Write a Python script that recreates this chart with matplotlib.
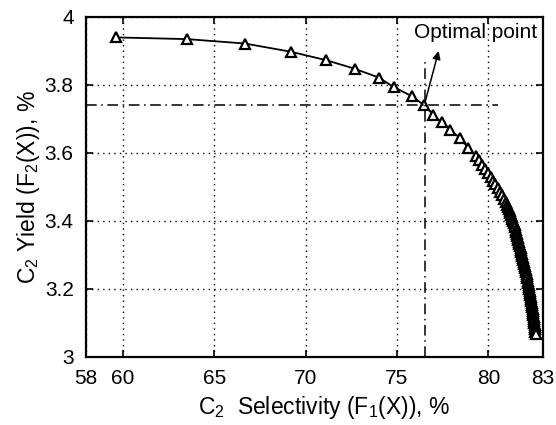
import matplotlib
matplotlib.use("Agg")
import matplotlib.pyplot as plt

plt.rcParams['font.family'] = ['Liberation Sans', 'DejaVu Sans']
plt.rcParams['mathtext.fontset'] = 'custom'
plt.rcParams['mathtext.rm'] = 'Liberation Sans'
plt.rcParams['mathtext.it'] = 'Liberation Sans:italic'

# pareto front: C2 selectivity (x) vs C2 yield (y)
sel = [59.62, 63.50, 66.68, 69.18, 71.13, 72.68, 74.00, 74.82, 75.82, 76.50,
       76.98, 77.44, 77.90, 78.45, 78.90, 79.30,
       79.50, 79.66, 79.82, 79.97, 80.12, 80.26, 80.38, 80.51, 80.63, 80.74,
       80.84, 80.94, 81.03,
       81.08, 81.12, 81.16, 81.20, 81.24, 81.28, 81.32, 81.36, 81.40, 81.43,
       81.46, 81.49, 81.52, 81.55, 81.58, 81.61, 81.64, 81.67, 81.70, 81.73,
       81.76, 81.78, 81.81, 81.84, 81.86, 81.89, 81.91, 81.94, 81.96, 81.99,
       82.01, 82.04, 82.06, 82.09, 82.11, 82.13, 82.16, 82.18, 82.20, 82.22,
       82.24, 82.26, 82.28, 82.29, 82.31, 82.33, 82.35, 82.37, 82.38, 82.40,
       82.42, 82.43, 82.45, 82.46, 82.47, 82.49, 82.50, 82.51, 82.53, 82.54,
       82.55, 82.57, 82.58]
yld = [3.940, 3.935, 3.922, 3.898, 3.873, 3.848, 3.822, 3.794, 3.767, 3.740,
       3.713, 3.690, 3.668, 3.644, 3.615, 3.592,
       3.578, 3.566, 3.554, 3.542, 3.530, 3.519, 3.508, 3.497, 3.486, 3.476,
       3.466, 3.456, 3.447,
       3.441, 3.435, 3.429, 3.423, 3.417, 3.411, 3.405, 3.399, 3.393, 3.387,
       3.381, 3.375, 3.369, 3.363, 3.357, 3.351, 3.345, 3.339, 3.333, 3.327,
       3.321, 3.315, 3.309, 3.303, 3.297, 3.291, 3.285, 3.279, 3.273, 3.267,
       3.261, 3.255, 3.249, 3.243, 3.237, 3.231, 3.225, 3.219, 3.213, 3.207,
       3.201, 3.195, 3.189, 3.183, 3.177, 3.171, 3.165, 3.159, 3.153, 3.147,
       3.141, 3.135, 3.129, 3.123, 3.117, 3.111, 3.105, 3.099, 3.093, 3.087,
       3.081, 3.075, 3.069]

opt_x = 76.55
opt_y = 3.740
label_xy = (79.3, 3.955)

xticks = [58, 60, 65, 70, 75, 80, 83]
yticks = [3, 3.2, 3.4, 3.6, 3.8, 4]
ytick_labels = ['3', '3.2', '3.4', '3.6', '3.8', '4']

fig = plt.figure(figsize=(5.56, 4.25), dpi=100)
ax = fig.add_axes([0.155, 0.16, 0.822, 0.80])

ax.plot(sel, yld, '-', color='black', lw=1.3, marker='^', ms=7.5,
        mfc='white', mec='black', mew=1.6)

ax.plot([58, 80.5], [opt_y, opt_y], color='black', lw=1.1, ls='-.', dashes=(7, 3, 1, 3))
ax.plot([opt_x, opt_x], [3, 3.87], color='black', lw=1.1, ls='-.', dashes=(7, 3, 1, 3))

ax.annotate('', xy=(77.32, 3.908), xytext=(opt_x - 0.05, opt_y + 0.002),
            arrowprops=dict(arrowstyle='-|>', color='black', lw=1.1, mutation_scale=12))
ax.text(label_xy[0], label_xy[1], 'Optimal point', fontsize=15,
        ha='center', va='center')

ax.set_xlim(58, 83)
ax.set_ylim(3, 4)
ax.set_xticks(xticks)
ax.set_yticks(yticks)
ax.set_yticklabels(ytick_labels)
ax.tick_params(direction='in', length=5, width=1.2, labelsize=15,
               top=True, right=True)
ax.tick_params(axis='x', pad=9)
ax.tick_params(axis='y', pad=9)
ax.grid(True, color='black', ls=(0, (1, 3)), lw=1.0)
for s in ax.spines.values():
    s.set_linewidth(1.6)

ax.set_xlabel(r'C$_2$  Selectivity (F$_1$(X)), %', fontsize=16.5)
ax.xaxis.set_label_coords(0.52, -0.11)
ax.set_ylabel(r'C$_2$ Yield (F$_2$(X)), %', fontsize=16.5)
ax.yaxis.set_label_coords(-0.097, 0.5)

fig.savefig('out.png', dpi=100)
